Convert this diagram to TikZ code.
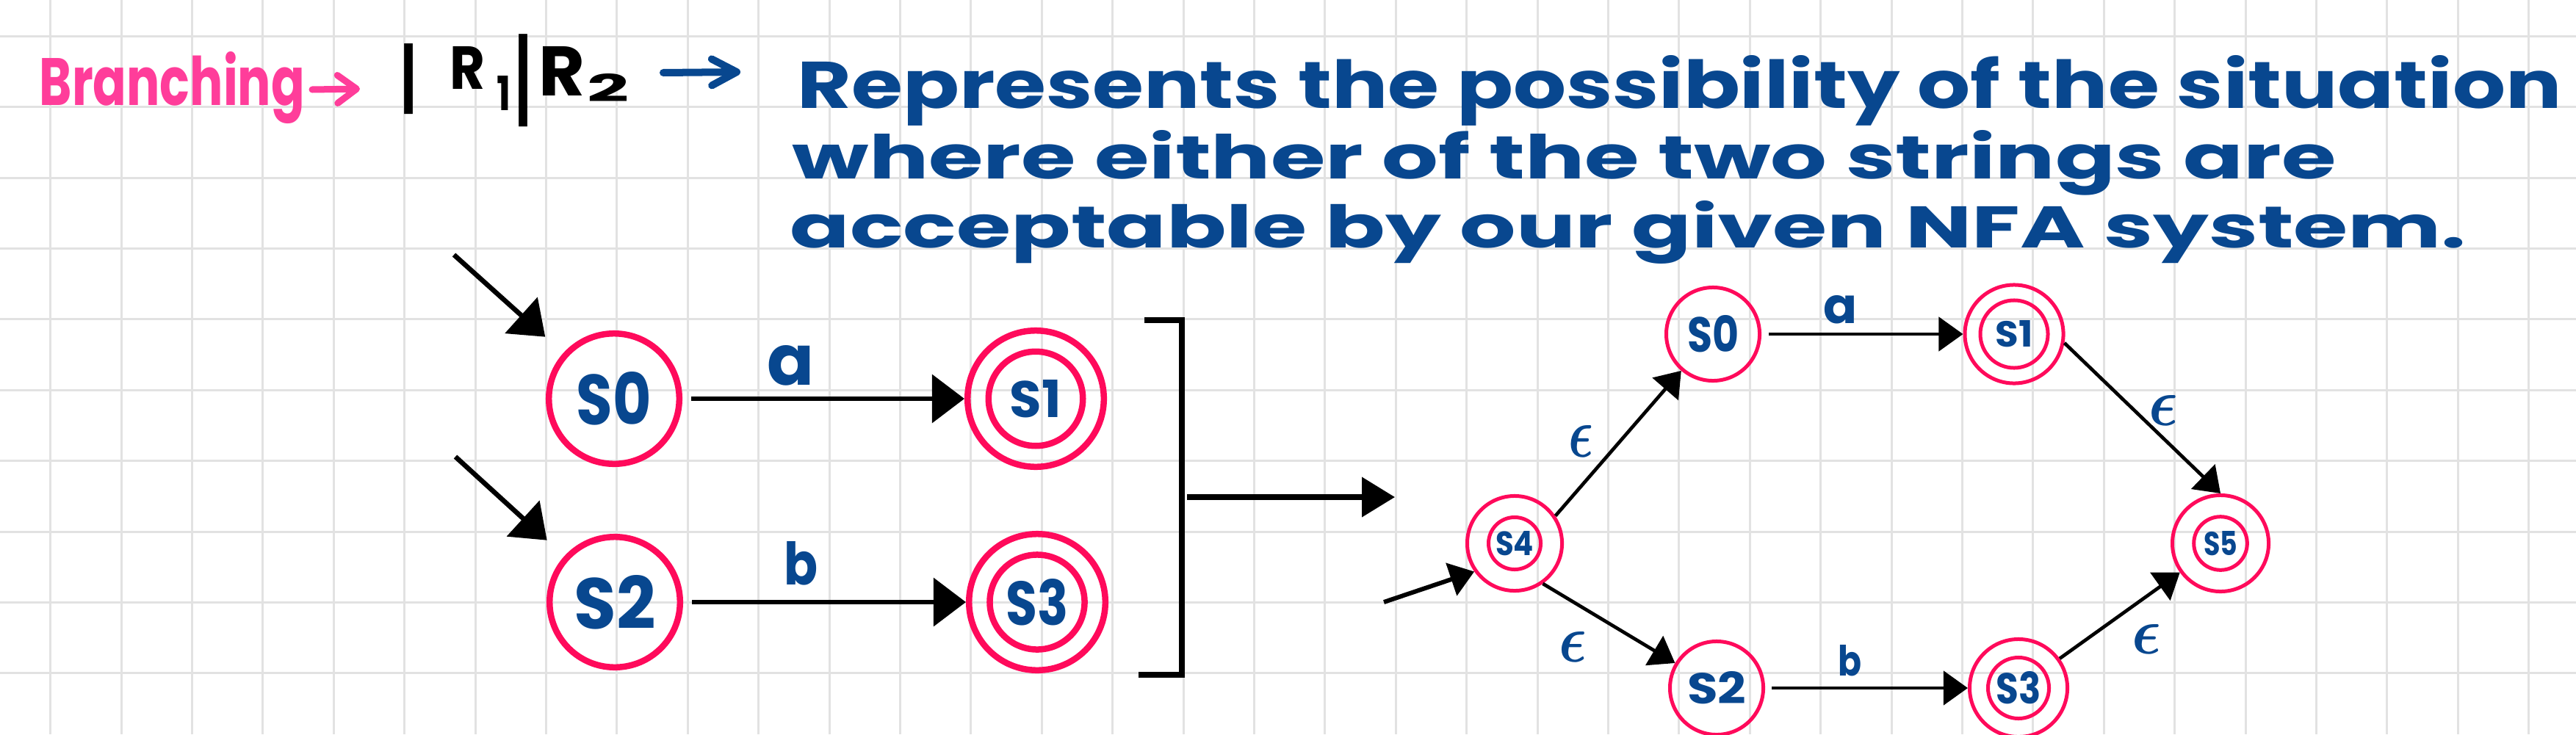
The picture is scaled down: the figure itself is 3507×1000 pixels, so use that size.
\documentclass[tikz,border=0pt]{standalone}
\usepackage{fontspec}
\setmainfont{Poppins}
\usepackage{graphicx}
\usetikzlibrary{arrows.meta}
\definecolor{inkblue}{HTML}{08478F}
\definecolor{ringpink}{HTML}{FF0A5B}
\definecolor{hotpink}{HTML}{FF3D9A}
\definecolor{gridgray}{HTML}{E2E2E2}
\newcommand{\fitbox}[3]{\resizebox{#1}{#2}{#3}}
\newcommand{\fitboxt}[3]{\resizebox*{#1}{#2}{#3}}
\begin{document}
\begin{tikzpicture}[x=0.01cm,y=-0.01cm,
  gridline/.style={draw=gridgray, line width=0.3mm},
  bigstate/.style={circle, draw=ringpink, line width=0.85mm, inner sep=0pt, text=inkblue, font=\bfseries},
  smallstate/.style={circle, draw=ringpink, line width=0.5mm, inner sep=0pt, text=inkblue, font=\bfseries},
  ring/.style={draw=ringpink, line width=0.85mm},
  smallring/.style={draw=ringpink, line width=0.5mm},
  bigarrow/.style={draw=black, line width=0.66mm, -{Triangle[length=4.4mm,width=6.5mm]}},
  smallarrow/.style={draw=black, line width=0.47mm, -{Triangle[length=3.3mm,width=4.6mm]}},
  lbl/.style={text=inkblue, inner sep=0pt, font=\bfseries},
  blk/.style={text=black, inner sep=0pt, font=\bfseries},
  textline/.style={anchor=base west, inner sep=0pt, text=inkblue, font=\bfseries}]
\fill[white] (0,0) rectangle (3507,1000);
\useasboundingbox (0,0) rectangle (3507,1000);
% grid
\foreach \i in {0,...,35} \draw[gridline] ({68.7+96.4*\i},0) -- ({68.7+96.4*\i},1000);
\foreach \j in {0,...,9} \draw[gridline] (0,{49.3+96.4*\j}) -- (3507,{49.3+96.4*\j});

% heading
\node[anchor=base west, inner sep=0pt, text=hotpink, font=\bfseries] (br) at (53,143) {\fitbox{36.1mm}{7.3mm}{Branching}};
\coordinate (pa1) at (425,122);
\coordinate (pa2) at (490,121);
\draw[hotpink, line width=0.9mm, line cap=round, -{Straight Barb[length=2.6mm,width=3.8mm,round]}] (pa1) -- (pa2);
\node[blk] (bar1) at (556,108) {\fitboxt{2mm}{9.6mm}{|}};
\node[blk] (r1) at (637,92) {\fitbox{4.8mm}{5.8mm}{R}};
\node[blk] (s1) at (686,127) {\fitbox{1.9mm}{4.7mm}{1}};
\node[blk] (bar2) at (712,110) {\fitboxt{2mm}{12.6mm}{|}};
\node[blk] (r2) at (765,97) {\fitbox{6.3mm}{6.7mm}{R}};
\node[blk] (s2) at (828,119) {\fitbox{5.7mm}{3.8mm}{2}};
\coordinate (ba1) at (903,99);
\coordinate (ba2) at (1008,98);
\draw[inkblue, line width=1mm, line cap=round, -{Straight Barb[length=3.4mm,width=3.6mm,round]}] (ba1) -- (ba2);
\node[textline] (t1) at (1085,147) {\fitbox{240mm}{7.2mm}{Represents the possibility of the situation}};
\node[textline] (t2) at (1078,243) {\fitbox{210mm}{6.6mm}{where either of the two strings are}};
\node[textline] (t3) at (1075,337) {\fitbox{228mm}{6.4mm}{acceptable by our given NFA system.}};

% left diagram
\node[bigstate, minimum size=17.75mm] (L0) at (836,543) {\fitbox{10.2mm}{7.2mm}{S0}};
\node[bigstate, minimum size=18.55mm] (L1) at (1410,543) {\fitbox{7mm}{5.1mm}{S1}};
\draw[ring] (L1.center) circle[radius=6.42mm];
\node[bigstate, minimum size=17.75mm] (L2) at (837,820) {\fitbox{11.1mm}{7.3mm}{S2}};
\node[bigstate, minimum size=18.55mm] (L3) at (1412,820) {\fitbox{8.5mm}{6.3mm}{S3}};
\draw[ring] (L3.center) circle[radius=6.45mm];
\coordinate (i0) at (618,347);
\coordinate (i2) at (620,622);
\draw[bigarrow, shorten >=3.3mm] (i0) -- (L0);
\draw[bigarrow, shorten >=3.2mm] (i2) -- (L2);
\draw[bigarrow, shorten <=1.2mm] (L0) -- (L1);
\draw[bigarrow, shorten <=1.2mm] (L2) -- (L3);
\node[lbl] (la) at (1077,498) {\fitbox{6.4mm}{5.4mm}{a}};
\node[lbl] (lb) at (1090,767) {\fitbox{4.6mm}{5.9mm}{b}};

% bracket and transition arrow
\draw[line width=0.75mm] (1558,436) -- (1609,436) -- (1609,919) -- (1550,919);
\coordinate (bm) at (1616,677);
\coordinate (bt) at (1899,677);
\draw[line width=0.75mm, -{Triangle[length=4.5mm,width=5.3mm]}] (bm) -- (bt);

% right diagram
\node[smallstate, minimum size=12.9mm] (R4) at (2062,740) {\fitbox{5.2mm}{3.3mm}{S4}};
\draw[smallring] (R4.center) circle[radius=3.55mm];
\node[smallstate, minimum size=12.7mm] (R0) at (2332,455) {\fitbox{7mm}{5mm}{S0}};
\node[smallstate, minimum size=13.4mm] (R1) at (2742,455) {\fitbox{5.1mm}{3.6mm}{S1}};
\draw[smallring] (R1.center) circle[radius=4.6mm];
\node[smallstate, minimum size=12.7mm] (R2) at (2337,937) {\fitbox{8mm}{4.4mm}{S2}};
\node[smallstate, minimum size=13.3mm] (R3) at (2748,937) {\fitbox{6.1mm}{4.4mm}{S3}};
\draw[smallring] (R3.center) circle[radius=4.15mm];
\node[smallstate, minimum size=13.1mm] (R5) at (3023,740) {\fitbox{4.6mm}{3.3mm}{S5}};
\draw[smallring] (R5.center) circle[radius=3.63mm];

\coordinate (i4) at (1884,820);
\draw[draw=black, line width=0.6mm, -{Triangle[length=3.3mm,width=4.6mm]}] (i4) -- (R4.215);
\draw[smallarrow] (R4.34) -- (R0);
\draw[smallarrow] (R4.-55) -- (R2);
\draw[smallarrow, shorten <=1mm] (R0) -- (R1);
\draw[smallarrow, shorten <=0.9mm] (R2) -- (R3);
\draw[smallarrow] (R1.-10) -- (R5.north);
\draw[smallarrow] (R3) -- (R5);

\node[lbl] (ra) at (2505,422) {\fitbox{4.6mm}{3.8mm}{a}};
\node[lbl] (rb) at (2518,900) {\fitbox{3.2mm}{4.2mm}{b}};
\node[lbl] (e1) at (2152,601) {\fitbox{3.4mm}{4.3mm}{\boldmath$\epsilon$}};
\node[lbl] (e2) at (2141,881) {\fitbox{3.8mm}{4.1mm}{\boldmath$\epsilon$}};
\node[lbl] (e3) at (2945,559) {\fitbox{4mm}{4.1mm}{\boldmath$\epsilon$}};
\node[lbl] (e4) at (2922,870) {\fitbox{4mm}{4mm}{\boldmath$\epsilon$}};
\end{tikzpicture}
\end{document}
